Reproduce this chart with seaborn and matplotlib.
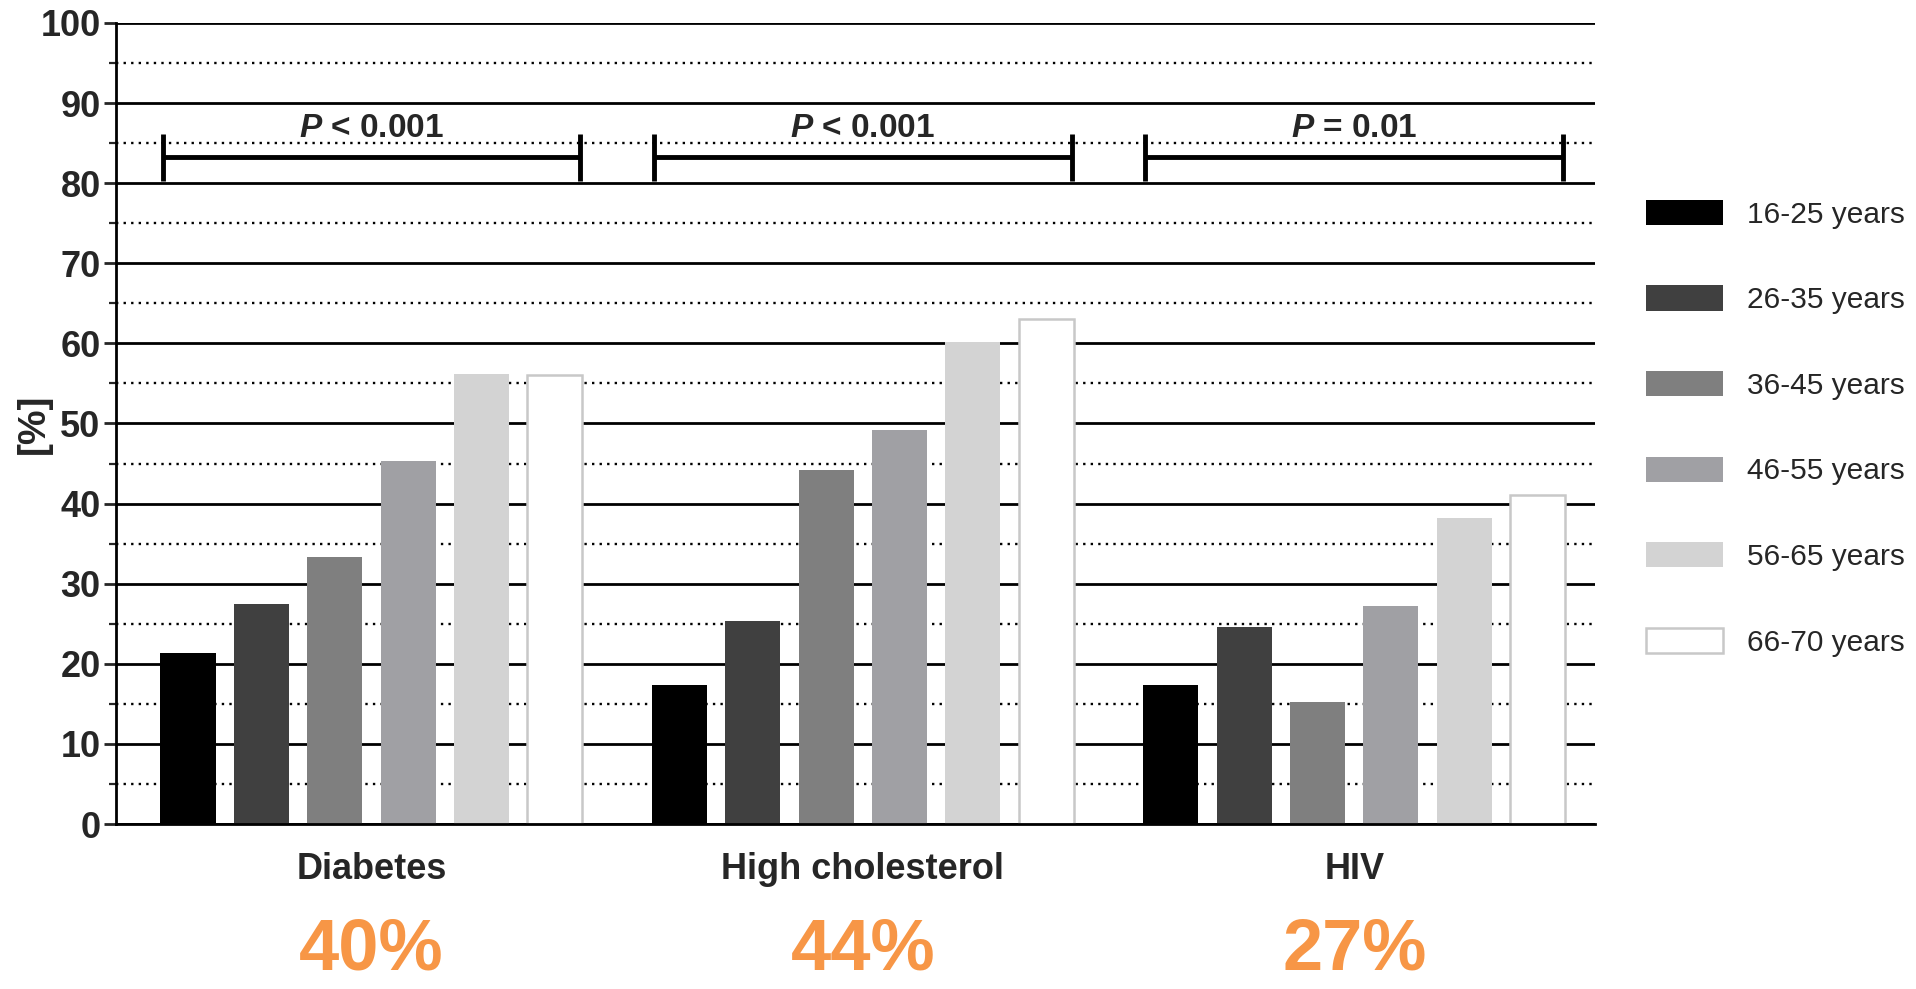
import matplotlib
matplotlib.use('Agg')
import matplotlib.pyplot as plt
import matplotlib.patches as mpatches
from matplotlib.ticker import MultipleLocator
import seaborn as sns
import pandas as pd

# Dados
conditions = ['Diabetes', 'High cholesterol', 'HIV']
age_groups = ['16-25 years', '26-35 years', '36-45 years',
              '46-55 years', '56-65 years', '66-70 years']
diabetes = [21.3, 27.5, 33.3, 45.3, 56.2, 56.0]
high_chol = [17.4, 25.4, 44.2, 49.2, 60.2, 63.0]
hiv = [17.3, 24.6, 15.2, 27.2, 38.2, 41.1]
p_values = ['< 0.001', '< 0.001', '= 0.01']
overall = ['40%', '44%', '27%']

bar_colors = ['#000000', '#404040', '#7f7f7f', '#a0a0a4', '#d3d3d3', '#ffffff']
orange = '#f79646'

sns.set_style('white')
plt.rcParams['font.family'] = ['Liberation Sans', 'DejaVu Sans']
plt.rcParams['mathtext.fontset'] = 'custom'
plt.rcParams['mathtext.it'] = 'Liberation Sans:italic:bold'
plt.rcParams['mathtext.rm'] = 'Liberation Sans:bold'

# formato longo
rows = []
for cond, vals in zip(conditions, [diabetes, high_chol, hiv]):
    for age, v in zip(age_groups, vals):
        rows.append({'condition': cond, 'age': age, 'value': v})
df = pd.DataFrame(rows)

group_width = 0.896
bracket_half = 0.425

fig = plt.figure(figsize=(19.16, 9.89), dpi=100)
ax = fig.add_axes([0.0605, 0.1668, 0.772, 0.81])

sns.barplot(data=df, x='condition', y='value', hue='age', order=conditions,
            hue_order=age_groups, palette=bar_colors, width=group_width, gap=0.25,
            errorbar=None, saturation=1, legend=False, linewidth=0, ax=ax)

# barra branca com contorno cinza
for patch in ax.containers[-1]:
    patch.set_edgecolor('#c8c8c8')
    patch.set_linewidth(1.8)

ax.set_xlim(-0.52, 2.49)
ax.set_ylim(0, 100)
ax.yaxis.set_major_locator(MultipleLocator(10))
ax.yaxis.set_minor_locator(MultipleLocator(5))
ax.set_axisbelow(True)
ax.grid(which='major', axis='y', color='black', linewidth=2.0, linestyle='-')
ax.grid(which='minor', axis='y', color='black', linewidth=1.7, linestyle=(0, (1, 2.2)))

for s in ['top', 'right']:
    ax.spines[s].set_visible(False)
for s in ['left', 'bottom']:
    ax.spines[s].set_linewidth(2.0)
    ax.spines[s].set_color('black')

ax.tick_params(axis='y', which='major', length=9, width=2, direction='out',
               labelsize=26, pad=2, left=True)
ax.tick_params(axis='y', which='minor', length=5, width=1.6, direction='out', left=True)
ax.tick_params(axis='x', length=0, labelsize=26, pad=20)
for lab in ax.get_yticklabels() + ax.get_xticklabels():
    lab.set_fontweight('bold')

ax.set_xlabel('')
ax.set_ylabel('[%]', fontsize=28, fontweight='bold')
ax.yaxis.set_label_coords(-0.043, 0.5)

# colchetes de significância
for i, p in enumerate(p_values):
    x0, x1 = i - bracket_half, i + bracket_half
    ax.plot([x0, x1], [83.3, 83.3], color='black', lw=3.5, solid_capstyle='butt', clip_on=False)
    for xe in (x0, x1):
        ax.plot([xe, xe], [80.3, 86.1], color='black', lw=3.5, solid_capstyle='butt', clip_on=False)
    ax.text(i, 86.8, r'$P$ ' + p, ha='center', va='center', fontsize=24, fontweight='bold')

# percentuais gerais em laranja
for i, txt in enumerate(overall):
    ax.text(i, -0.200, txt, transform=ax.get_xaxis_transform(), ha='center', va='bottom',
            fontsize=52, fontweight='bold', color=orange)

handles = [mpatches.Patch(facecolor=c, edgecolor='#c8c8c8' if c == '#ffffff' else c,
                          linewidth=1.8 if c == '#ffffff' else 0, label=a)
           for c, a in zip(bar_colors, age_groups)]
fig.legend(handles=handles, loc='center left', bbox_to_anchor=(0.859, 0.567),
           frameon=False, borderpad=0, borderaxespad=0,
           prop={'size': 21.5},
           handlelength=2.6, handleheight=0.92, handletextpad=0.8, labelspacing=1.9)

fig.savefig('out.png', dpi=100)
plt.close(fig)
